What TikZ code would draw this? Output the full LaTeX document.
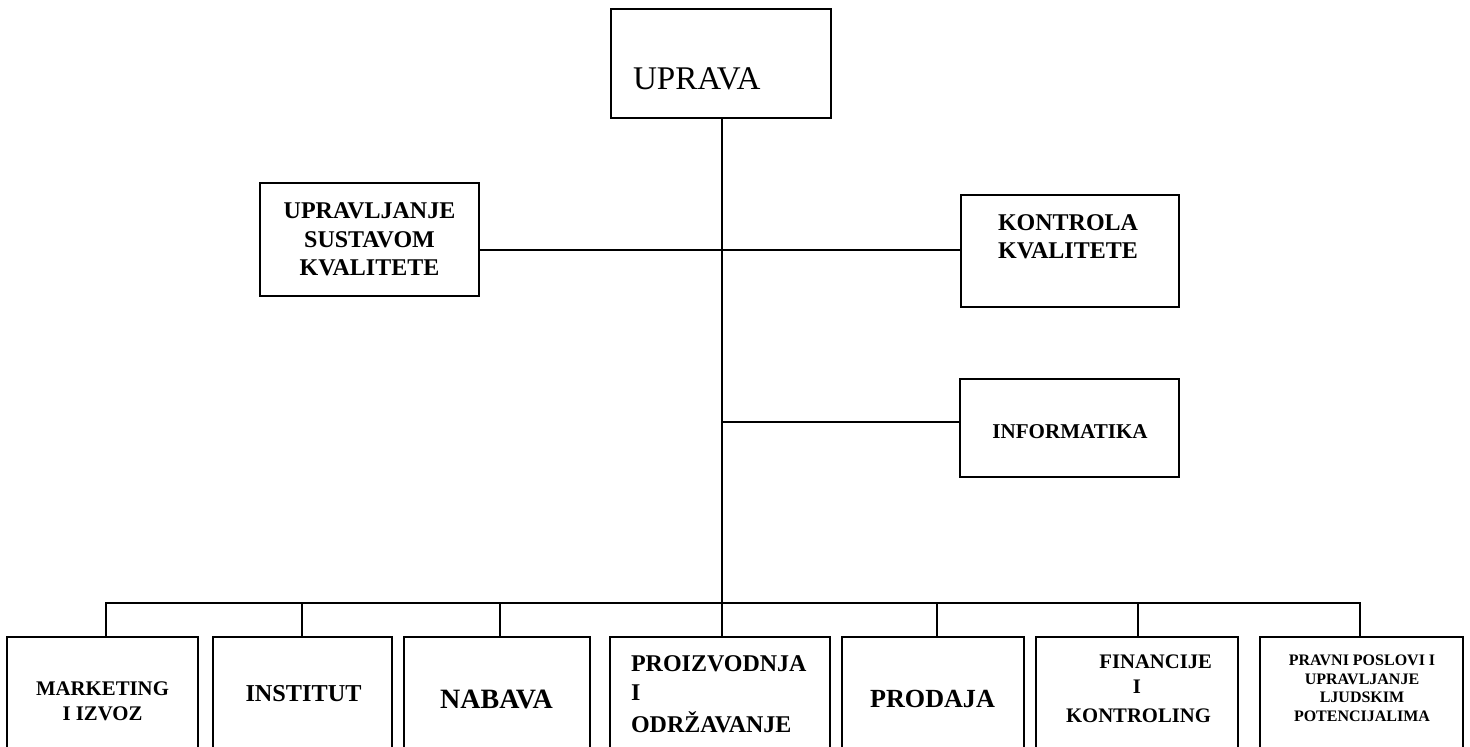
\documentclass[tikz,border=0pt]{standalone}
\usepackage{fontspec}
\setmainfont{Liberation Serif}
\begin{document}
\begin{tikzpicture}[x=0.75pt,y=-0.75pt,
  box/.style={draw,line width=1.4pt,rectangle,inner sep=0pt,outer sep=0pt},
  conn/.style={line width=1.4pt},
  txt/.style={inner sep=0pt,outer sep=0pt,anchor=base},
  fA/.style={font=\bfseries\fontsize{18}{20}\selectfont},
  fB/.style={font=\bfseries\fontsize{15.6}{18}\selectfont},
  fC/.style={font=\bfseries\fontsize{12}{14}\selectfont}]
\clip (0,0) rectangle (1470,746);
% boxes
\node[box,minimum width=165pt,minimum height=81.75pt] (upr) at (721,63.5) {};
\node[box,minimum width=164.25pt,minimum height=84.75pt] (usk) at (369.5,239.5) {};
\node[box,minimum width=163.5pt,minimum height=84pt] (kk) at (1070,251) {};
\node[box,minimum width=164.25pt,minimum height=73.5pt] (inf) at (1069.5,428) {};
\node[box,minimum width=143.25pt,minimum height=92.25pt] (mkt) at (102.5,698.5) {};
\node[box,minimum width=134.25pt,minimum height=92.25pt] (ins) at (302.5,698.5) {};
\node[box,minimum width=139.5pt,minimum height=92.25pt] (nab) at (497,698.5) {};
\node[box,minimum width=165pt,minimum height=92.25pt] (pro) at (720,698.5) {};
\node[box,minimum width=136.5pt,minimum height=92.25pt] (prd) at (933,698.5) {};
\node[box,minimum width=151.5pt,minimum height=92.25pt] (fin) at (1137,698.5) {};
\node[box,minimum width=152.25pt,minimum height=92.25pt] (prv) at (1361.5,698.5) {};
% junction coordinates
\coordinate (hq) at (722,250);
\coordinate (hi) at (722,422);
\coordinate (bus) at (722,603);
\coordinate (d1) at (106,603);
\coordinate (d2) at (302,603);
\coordinate (d3) at (500,603);
\coordinate (d5) at (937,603);
\coordinate (d6) at (1138,603);
\coordinate (d7) at (1360,603);
% connectors
\draw[conn] (upr.south -| bus) -- (bus);
\draw[conn] (hq -| usk.east) -- (hq -| kk.west);
\draw[conn] (hi) -- (hi -| inf.west);
\draw[conn] (d1 |- mkt.north) -- (d1) -- (d7) -- (d7 |- prv.north);
\draw[conn] (d2) -- (d2 |- ins.north);
\draw[conn] (d3) -- (d3 |- nab.north);
\draw[conn] (bus) -- (bus |- pro.north);
\draw[conn] (d5) -- (d5 |- prd.north);
\draw[conn] (d6) -- (d6 |- fin.north);
% texts
\node[txt,anchor=base west,font=\fontsize{24.8}{29}\selectfont] (tupr) at (633,89) {UPRAVA};
\node[txt,fA] (tusk1) at (369.5,218) {UPRAVLJANJE};
\node[txt,fA] (tusk2) at (369.5,247) {SUSTAVOM};
\node[txt,fA] (tusk3) at (369.5,275) {KVALITETE};
\node[txt,fA] (tkk1) at (1068,230) {KONTROLA};
\node[txt,fA] (tkk2) at (1068,258) {KVALITETE};
\node[txt,font=\bfseries\fontsize{15.8}{18}\selectfont] (tinf) at (1070,438) {INFORMATIKA};
\node[txt,fB] (tmkt1) at (102.5,695) {MARKETING};
\node[txt,fB] (tmkt2) at (102.5,720) {I IZVOZ};
\node[txt,font=\bfseries\fontsize{18.2}{21}\selectfont] (tins) at (303.5,701) {INSTITUT};
\node[txt,font=\bfseries\fontsize{21}{24}\selectfont] (tnab) at (496.5,708) {NABAVA};
\node[txt,anchor=base west,font=\bfseries\fontsize{18}{21}\selectfont] (tpro1) at (631,671) {PROIZVODNJA};
\node[txt,anchor=base west,font=\bfseries\fontsize{18}{21}\selectfont] (tpro2) at (631,700) {I};
\node[txt,anchor=base west,font=\bfseries\fontsize{18}{21}\selectfont] (tpro3) at (631,732) {ODRŽAVANJE};
\node[txt,font=\bfseries\fontsize{19.6}{23}\selectfont] (tprd) at (932.5,707) {PRODAJA};
\node[txt,anchor=base east,font=\bfseries\fontsize{15.5}{18}\selectfont] (tfin1) at (1212,668) {FINANCIJE};
\node[txt,font=\bfseries\fontsize{15.5}{18}\selectfont] (tfin2) at (1137,693) {I};
\node[txt,font=\bfseries\fontsize{15.5}{18}\selectfont] (tfin3) at (1138.5,722) {KONTROLING};
\node[txt,fC] (tprv1) at (1362,665) {PRAVNI POSLOVI I};
\node[txt,fC] (tprv2) at (1362,684) {UPRAVLJANJE};
\node[txt,fC] (tprv3) at (1362,702) {LJUDSKIM};
\node[txt,fC] (tprv4) at (1362,721) {POTENCIJALIMA};
\end{tikzpicture}
\end{document}
